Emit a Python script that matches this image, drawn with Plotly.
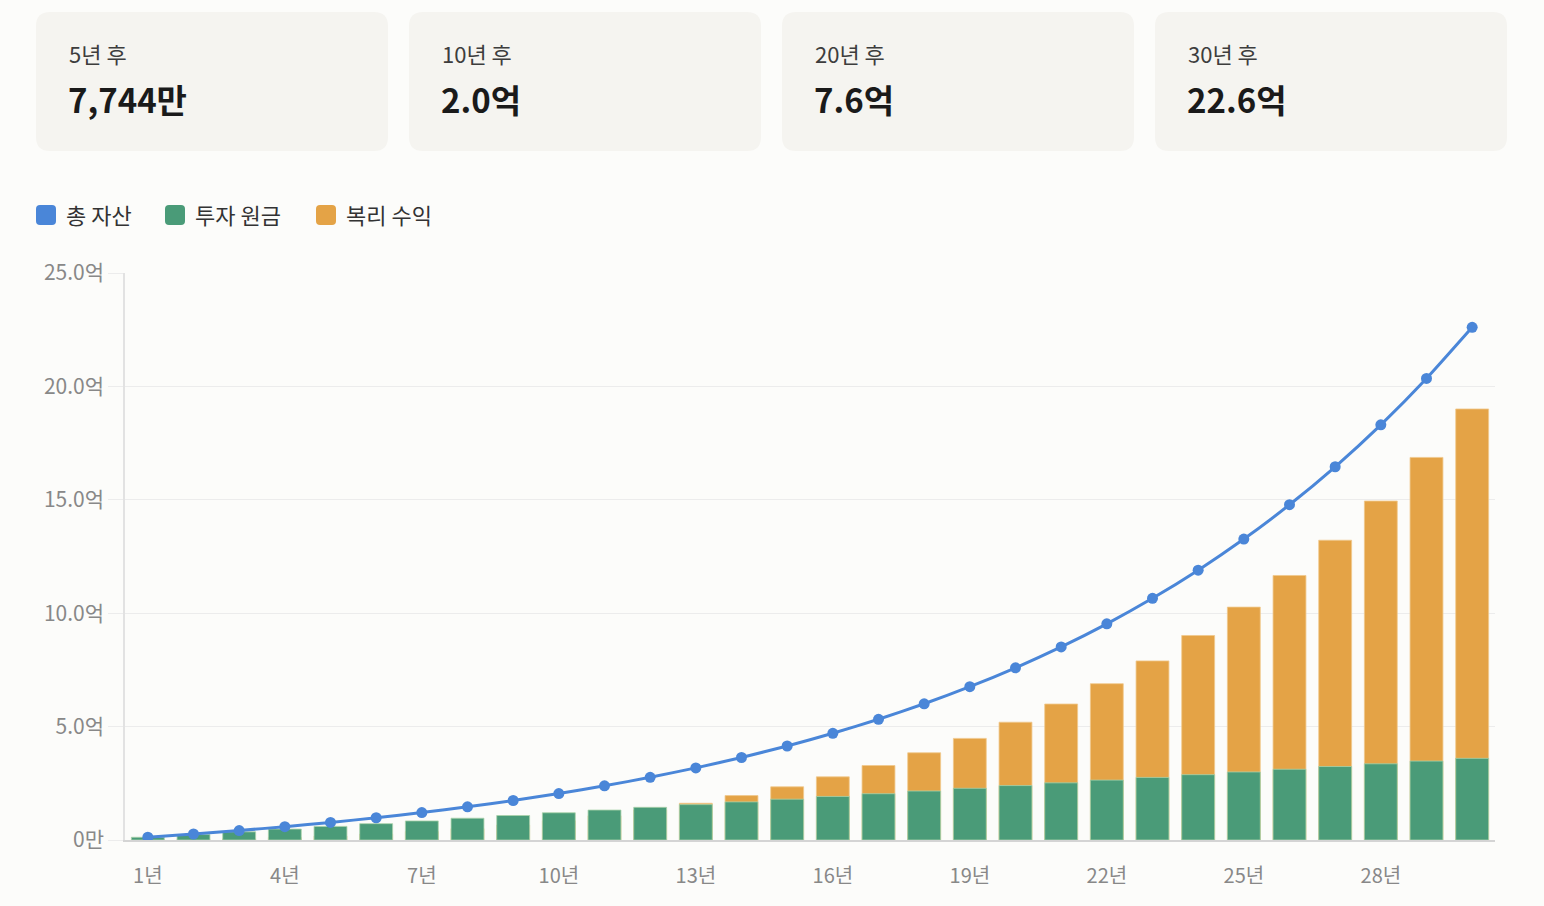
import plotly.graph_objects as go

# 연도별 데이터 (단위: 억)
years = [f"{n}년" for n in range(1, 31)]
total_assets = [0.126, 0.264, 0.418, 0.587, 0.774, 0.981, 1.210, 1.462, 1.741, 2.048,
                2.389, 2.764, 3.180, 3.638, 4.145, 4.704, 5.323, 6.006, 6.760, 7.594,
                8.515, 9.532, 10.656, 11.897, 13.268, 14.783, 16.457, 18.306, 20.349, 22.605]
principal = [0.12, 0.24, 0.36, 0.48, 0.60, 0.72, 0.84, 0.96, 1.08, 1.20,
             1.32, 1.44, 1.56, 1.68, 1.80, 1.92, 2.04, 2.16, 2.28, 2.40,
             2.52, 2.64, 2.76, 2.88, 3.00, 3.12, 3.24, 3.36, 3.48, 3.60]
interest = [0.006, 0.024, 0.058, 0.107, 0.174, 0.261, 0.370, 0.502, 0.661, 0.848,
            1.069, 1.324, 1.620, 1.958, 2.345, 2.784, 3.283, 3.846, 4.480, 5.194,
            5.995, 6.892, 7.896, 9.017, 10.268, 11.663, 13.217, 14.946, 16.869, 19.005]

card_labels = ["5년 후", "10년 후", "20년 후", "30년 후"]
card_values = ["7,744만", "2.0억", "7.6억", "22.6억"]

series_names = ["총 자산", "투자 원금", "복리 수익"]
colors = ["#4a86d8", "#4a9b78", "#e4a346"]

y_ticks = [0, 5, 10, 15, 20, 25]
y_tick_text = ["0만", "5.0억", "10.0억", "15.0억", "20.0억", "25.0억"]
x_tick_vals = years[0::3]

W, H = 1544, 906
L, R, T, B = 125, 1495, 273, 840
FONT = "Noto Sans CJK KR"


def px_x(x):
    return (x - L) / (R - L)


def px_y(y):
    return (B - y) / (B - T)


def rounded_rect(x0, y0, x1, y1, r):
    # pixel coords -> paper path with rounded corners
    X0, X1 = px_x(x0), px_x(x1)
    Y0, Y1 = px_y(y0), px_y(y1)
    rx = r / (R - L)
    ry = r / (B - T)
    return (f"M{X0 + rx},{Y0} L{X1 - rx},{Y0} Q{X1},{Y0} {X1},{Y0 - ry} "
            f"L{X1},{Y1 + ry} Q{X1},{Y1} {X1 - rx},{Y1} "
            f"L{X0 + rx},{Y1} Q{X0},{Y1} {X0},{Y1 + ry} "
            f"L{X0},{Y0 - ry} Q{X0},{Y0} {X0 + rx},{Y0} Z")


fig = go.Figure()

fig.add_trace(go.Bar(x=years, y=interest, name=series_names[2],
                     marker=dict(color=colors[2], line=dict(color="rgba(240,200,140,0.8)", width=1)),
                     width=0.72, showlegend=False))
fig.add_trace(go.Bar(x=years, y=principal, name=series_names[1],
                     marker=dict(color=colors[1], line=dict(color="rgba(170,210,170,0.8)", width=1)),
                     width=0.72, showlegend=False))
fig.add_trace(go.Scatter(x=years, y=total_assets, name=series_names[0], mode="lines+markers",
                         line=dict(color=colors[0], width=3, shape="spline", smoothing=0.5),
                         marker=dict(color=colors[0], size=11), showlegend=False))

shapes = []
annotations = []

# 상단 요약 카드
card_x = [36, 409, 782, 1155]
for cx, lab, val in zip(card_x, card_labels, card_values):
    shapes.append(dict(type="path", path=rounded_rect(cx, 12, cx + 352, 151, 14),
                       xref="paper", yref="paper", fillcolor="#f5f4f0",
                       line=dict(width=0), layer="below"))
    annotations.append(dict(x=px_x(cx + 31), y=px_y(53), xref="paper", yref="paper",
                            text=lab, showarrow=False, xanchor="left", yanchor="middle",
                            font=dict(family=FONT, size=22, color="#3d3d3d")))
    annotations.append(dict(x=px_x(cx + 30), y=px_y(99), xref="paper", yref="paper",
                            text=f"<b>{val}</b>", showarrow=False, xanchor="left", yanchor="middle",
                            font=dict(family=FONT, size=33, color="#1a1a1a")))

# 범례
legend_x = [36, 165, 316]
for lx, name, c in zip(legend_x, series_names, colors):
    shapes.append(dict(type="path", path=rounded_rect(lx, 205, lx + 20, 225, 4),
                       xref="paper", yref="paper", fillcolor=c, line=dict(width=0)))
    annotations.append(dict(x=px_x(lx + 28), y=px_y(214), xref="paper", yref="paper",
                            text=name, showarrow=False, xanchor="left", yanchor="middle",
                            font=dict(family=FONT, size=22, color="#333333")))

fig.update_layout(
    width=W, height=H,
    margin=dict(l=L, r=W - R, t=T, b=H - B, pad=0),
    paper_bgcolor="#fcfcfa", plot_bgcolor="#fcfcfa",
    barmode="overlay",
    shapes=shapes, annotations=annotations,
    font=dict(family=FONT, color="#888888", size=20),
    xaxis=dict(type="category", tickvals=x_tick_vals, ticktext=x_tick_vals,
               showgrid=False, showline=True, linecolor="#d4d4d4", linewidth=2,
               ticks="", tickfont=dict(size=20, color="#888888"), ticklabelstandoff=17,
               range=[-0.5, 29.5]),
    yaxis=dict(range=[0, 25], tickvals=y_ticks, ticktext=y_tick_text,
               showgrid=True, gridcolor="#ececec", gridwidth=1,
               showline=True, linecolor="#e2e2e2", linewidth=1.5,
               ticks="outside", ticklen=15, tickcolor="#ececec",
               tickfont=dict(size=21, color="#888888"), zeroline=False),
)

fig.write_html("out.html", config={"displayModeBar": False},
               post_script="document.body.style.margin='0';document.body.style.overflow='hidden';")
